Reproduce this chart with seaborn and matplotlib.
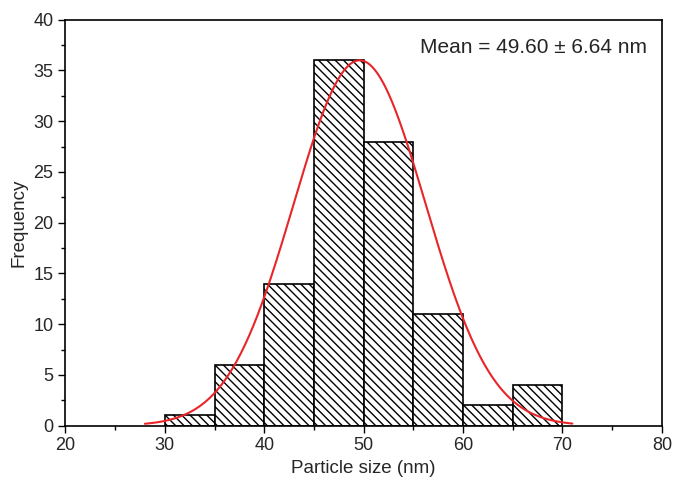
import numpy as np
import pandas as pd
import matplotlib
matplotlib.use("Agg")
import matplotlib.pyplot as plt
import seaborn as sns
from matplotlib.ticker import MultipleLocator

bin_centers = [32.5, 37.5, 42.5, 47.5, 52.5, 57.5, 62.5, 67.5]
counts = [1, 6, 14, 36, 28, 11, 2, 4]
bin_edges = [30, 35, 40, 45, 50, 55, 60, 65, 70]
fit_mean = 49.60
fit_sd = 6.64
fit_peak = 36.0
fit_range = [28.0, 71.0]

sns.set_style("ticks")
plt.rcParams['font.family'] = ['Liberation Sans', 'DejaVu Sans']
plt.rcParams['hatch.linewidth'] = 1.0

fig = plt.figure(figsize=(6.74, 4.82), dpi=100)
ax = fig.add_axes([0.097, 0.117, 0.885, 0.842])

df = pd.DataFrame({"size": bin_centers, "count": counts})
sns.histplot(data=df, x="size", weights="count", bins=bin_edges, ax=ax,
             color="white", edgecolor="black", linewidth=1.2, alpha=1)
for p in ax.patches:
    p.set_hatch("\\\\\\\\")
    p.set_facecolor("white")
    p.set_edgecolor("black")

xs = np.linspace(fit_range[0], fit_range[1], 300)
ys = fit_peak * np.exp(-(xs - fit_mean) ** 2 / (2 * fit_sd ** 2))
sns.lineplot(x=xs, y=ys, ax=ax, color="#e8262a", linewidth=1.5)

ax.set_xlim(20, 80)
ax.set_ylim(0, 40)
ax.xaxis.set_major_locator(MultipleLocator(10))
ax.xaxis.set_minor_locator(MultipleLocator(5))
ax.yaxis.set_major_locator(MultipleLocator(5))
ax.yaxis.set_minor_locator(MultipleLocator(2.5))
ax.tick_params(which="major", direction="out", length=5, width=1, labelsize=13, color="black")
ax.tick_params(which="minor", direction="out", length=3, width=1, color="black")
for s in ax.spines.values():
    s.set_visible(True)
    s.set_linewidth(1.2)
    s.set_color("black")

ax.set_xlabel("Particle size (nm)", fontsize=13.5)
ax.set_ylabel("Frequency", fontsize=13.5)
ax.text(0.975, 0.955, "Mean = 49.60 \u00b1 6.64 nm", transform=ax.transAxes,
        ha="right", va="top", fontsize=15)

fig.savefig("out.png", dpi=100)
